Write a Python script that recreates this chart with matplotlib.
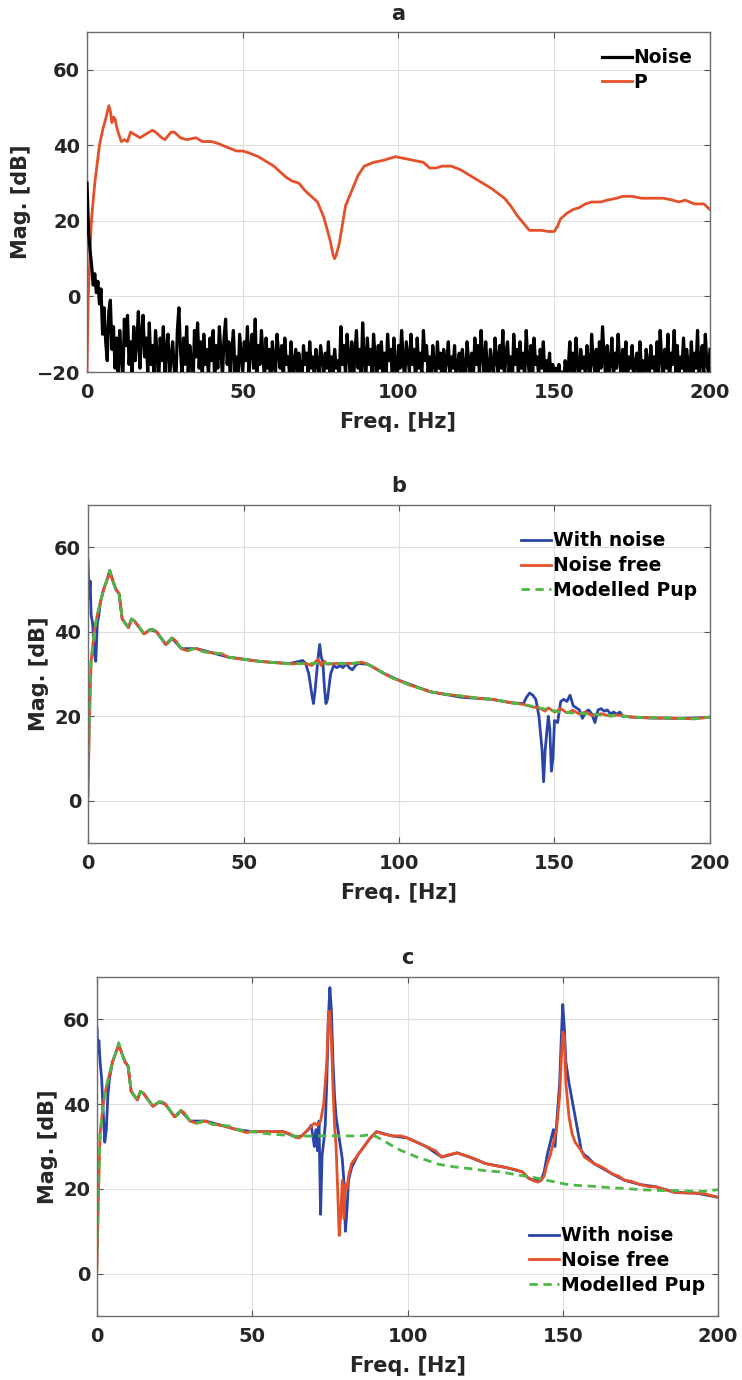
import numpy as np
import matplotlib
matplotlib.use("Agg")
import matplotlib.pyplot as plt

# ---------------- data ----------------
# Panel a: noise spectrum sampled every 0.5 Hz from 0 to 200 Hz
noise_step = 0.5
noise_mag = [
    30, 17, 12, 8, 3, 6, 1, 4, -2, 2, -10, -3, -12, -17, -4, -1, -14, -8, -19, -11,
    -20, -9, -16, -22, -6, -13, -5, -18, -12, -21, -8, -17, -12, -4, -19, -10, -5, -16, -11, -20,
    -7, -18, -13, -21, -9, -15, -23, -11, -17, -8, -20, -14, -10, -22, -16, -12, -19, -24, -9, -3,
    -14, -21, -11, -18, -8, -20, -13, -17, -25, -9, -16, -7, -19, -12, -22, -10, -18, -14, -21, -11,
    -17, -9, -23, -13, -19, -8, -15, -21, -11, -6, -18, -12, -22, -14, -9, -20, -16, -24, -10, -15,
    -20, -12, -17, -8, -21, -14, -10, -19, -6, -23, -13, -18, -9, -16, -22, -11, -19, -14, -25, -12,
    -17, -21, -10, -15, -19, -13, -23, -11, -18, -16, -20, -12, -24, -17, -14, -21, -15, -19, -22, -13,
    -18, -15, -21, -12, -19, -16, -23, -14, -18, -20, -13, -17, -21, -15, -19, -12, -22, -16, -20, -14,
    -19, -17, -22, -8, -18, -13, -21, -10, -16, -20, -12, -24, -15, -9, -19, -14, -21, -7, -17, -22,
    -11, -18, -14, -21, -10, -16, -23, -13, -19, -12, -20, -15, -22, -10, -17, -14, -21, -11, -18, -24,
    -13, -19, -9, -17, -22, -12, -16, -20, -10, -18, -14, -23, -11, -19, -15, -21, -9, -17, -13, -20,
    -16, -22, -13, -18, -21, -12, -19, -15, -24, -14, -20, -17, -12, -21, -16, -19, -13, -22, -18, -15,
    -21, -14, -19, -23, -12, -17, -20, -15, -22, -11, -18, -13, -21, -9, -16, -20, -12, -19, -23, -14,
    -18, -21, -11, -17, -20, -13, -19, -9, -22, -15, -12, -20, -16, -24, -10, -18, -14, -21, -12, -19,
    -15, -22, -9, -17, -20, -13, -23, -11, -18, -16, -21, -14, -19, -12, -22, -17, -20, -15, -24, -18,
    -21, -19, -23, -18, -22, -20, -24, -17, -21, -19, -12, -22, -15, -20, -11, -18, -23, -14, -19, -16,
    -21, -13, -18, -22, -10, -17, -20, -14, -23, -12, -19, -8, -16, -21, -13, -20, -18, -11, -22, -15,
    -19, -10, -17, -21, -14, -20, -12, -23, -16, -19, -13, -22, -18, -15, -21, -12, -20, -17, -24, -14,
    -18, -21, -13, -19, -16, -22, -12, -20, -9, -17, -21, -14, -19, -10, -23, -15, -18, -9, -20, -13,
    -22, -16, -19, -11, -21, -14, -18, -23, -12, -20, -15, -19, -9, -22, -17, -13, -21, -10, -18, -20,
    -14,
]

# Panel a: P (freq Hz, dB)
p_pts = [
    (0, -20), (0.4, 0), (1.4, 20), (2.5, 30), (4, 40), (5, 44), (6, 47), (7, 50.5),
    (7.5, 49), (8, 46), (8.5, 47.5), (9, 47), (9.5, 45), (10, 43.5), (11, 41), (12, 41.5),
    (13, 41), (14, 43.5), (15, 43), (16, 42.5), (17, 42), (18, 42.5), (20, 43.5), (21, 44),
    (22, 43.5), (24, 42), (25, 41.5), (26, 42.5), (27, 43.5), (28, 43.5), (30, 42), (32, 41.5),
    (35, 42), (37, 41), (40, 41), (42, 40.5), (45, 39.5), (48, 38.5), (50, 38.5), (52, 38),
    (55, 37), (58, 35.5), (60, 34.5), (62, 33), (64, 31.5), (66, 30.5), (68, 30), (70, 28),
    (72, 26.5), (74, 25), (76, 21), (78, 15), (79, 11), (79.5, 10), (80, 11), (81, 14),
    (82, 19), (83, 24), (85, 28), (87, 32), (89, 34.5), (92, 35.5), (95, 36), (97, 36.5),
    (99, 37), (102, 36.5), (105, 36), (108, 35.5), (110, 34), (112, 34), (114, 34.5),
    (117, 34.5), (120, 33.5), (123, 32), (126, 30.5), (130, 28.5), (134, 26), (136, 24),
    (138, 21.5), (140, 19.5), (142, 17.5), (144, 17.5), (146, 17.5), (148, 17.2), (150, 17.2),
    (151, 18.5), (152, 20.5), (154, 22), (156, 23), (158, 23.5), (160, 24.5), (162, 25),
    (165, 25), (167, 25.5), (170, 26), (172, 26.5), (175, 26.5), (178, 26), (180, 26),
    (183, 26), (185, 26), (188, 25.5), (190, 25), (192, 25.5), (195, 24.5), (198, 24.5), (200, 23),
]

# Modelled Pup (panels b and c)
pup_pts = [
    (0, 5), (0.5, 20), (1, 33), (2, 40), (3, 44), (4, 47), (5, 50), (6, 52), (7, 54.5),
    (8, 52), (9, 50), (10, 49), (11, 43), (12, 42), (13, 41), (14, 43), (15, 42.5), (17, 40.5),
    (18, 39.5), (20, 40.5), (21, 40.5), (22, 40), (24, 38), (25, 37), (26, 37.5), (27, 38.5),
    (28, 38), (30, 36), (32, 35.5), (34, 36), (35, 36), (37, 35.3), (40, 35), (43, 34.8),
    (45, 34), (50, 33.5), (55, 33), (60, 32.7), (65, 32.4), (70, 32.5), (75, 32.5), (80, 32.5),
    (85, 32.5), (88, 32.8), (90, 32.3), (92, 31.5), (95, 30.2), (98, 29), (100, 28.5),
    (103, 27.5), (106, 26.8), (110, 25.8), (115, 25.2), (121, 24.7), (125, 24.3), (130, 24),
    (136, 23.2), (140, 22.8), (145, 22), (151, 21.1), (155, 20.8), (160, 20.6), (165, 20.3),
    (170, 20.1), (175, 19.8), (182, 19.6), (185, 19.6), (190, 19.5), (195, 19.4), (200, 19.8),
]

# Panel b: with noise
wn_b_pts = [
    (0, 57), (0.3, 48), (0.7, 52), (1, 44), (1.5, 42), (2, 35), (2.5, 33), (3, 42), (3.5, 44),
    (4, 47), (5, 50), (6, 52), (7, 54.5), (8, 52), (9, 50), (10, 49), (11, 43), (12, 42),
    (13, 41), (14, 43), (15, 42.5), (17, 40.5), (18, 39.5), (20, 40.5), (22, 40), (24, 38),
    (25, 37), (27, 38.5), (30, 36), (35, 36), (40, 35), (45, 34), (50, 33.5), (55, 33),
    (60, 32.7), (65, 32.5), (68, 33), (69, 33.2), (70, 32.5), (71, 30), (72, 25), (72.5, 23),
    (73, 26), (74, 34), (74.5, 37), (75, 34), (75.5, 33), (76, 27), (76.5, 23), (77, 24),
    (78, 30), (79, 32), (80, 31.5), (81, 32), (82, 31.5), (83, 32.5), (84, 31.5), (85, 31),
    (86, 32), (87, 32.5), (90, 32.3), (95, 30.2), (100, 28.5), (110, 25.8), (120, 24.5),
    (130, 24), (136, 23.2), (140, 23), (141, 24.5), (142, 25.5), (143, 25), (144, 24),
    (145, 20), (146, 12), (146.5, 4.5), (147, 12), (148, 20), (148.5, 17), (149, 7),
    (149.5, 10), (150, 19), (151, 18.5), (152, 23.5), (153, 24), (154, 23.5), (155, 25),
    (156, 22.5), (157, 22), (158, 21.5), (159, 19.5), (160, 21), (161, 21.5), (162, 20.5),
    (163, 18.5), (164, 21.5), (165, 21.8), (166, 21.2), (167, 21.5), (168, 20.5), (169, 21),
    (170, 20.5), (171, 21), (172, 20), (175, 19.8), (180, 19.6), (190, 19.5), (200, 19.7),
]

# Panel b: noise free
nf_b_pts = [
    (0, 1), (0.5, 20), (1, 33), (2, 40), (3, 44), (4, 47), (5, 50), (6, 52), (7, 54),
    (8, 52), (9, 50), (10, 49), (11, 43), (12, 42), (13, 41), (14, 43), (15, 42.5), (17, 40.5),
    (18, 39.5), (20, 40.5), (21, 40.5), (22, 40), (24, 38), (25, 37), (26, 37.5), (27, 38.5),
    (28, 38), (30, 36), (32, 35.5), (34, 36), (35, 36), (37, 35.3), (40, 35), (43, 34.8),
    (45, 34), (50, 33.5), (55, 33), (60, 32.7), (65, 32.4), (70, 32.5), (72, 32), (73, 32.8),
    (74, 33.5), (75, 32), (76, 33), (77, 32.3), (80, 32.5), (85, 32.5), (88, 32.8), (90, 32.3),
    (92, 31.5), (95, 30.2), (98, 29), (100, 28.5), (103, 27.5), (106, 26.8), (110, 25.8),
    (115, 25.2), (121, 24.7), (125, 24.3), (130, 24), (136, 23.2), (140, 22.8), (143, 22.2),
    (145, 22), (147, 21.2), (148, 22), (150, 21), (152, 21.8), (154, 20.8), (156, 21.4),
    (158, 20.5), (160, 21), (162, 20.2), (165, 20.6), (168, 20), (170, 20.3), (175, 19.8),
    (182, 19.6), (185, 19.6), (190, 19.5), (195, 19.4), (200, 19.8),
]

# Panel c: with noise
wn_c_pts = [
    (0, 58), (0.3, 52), (0.6, 55), (1, 50), (1.5, 46), (2, 38), (2.5, 31), (3, 34), (3.5, 42),
    (4, 46), (5, 50), (6, 52), (7, 54), (8, 52), (9, 50), (10, 49), (11, 43), (12, 42),
    (13, 41), (14, 43), (15, 42.5), (17, 40.5), (18, 39.5), (20, 40.5), (22, 40), (24, 38),
    (25, 37), (27, 38.5), (30, 36), (35, 36), (40, 35), (45, 34), (50, 33.5), (60, 33.5),
    (64, 32.2), (66, 32.5), (68, 34), (69, 35), (70, 30), (70.5, 34), (71, 29), (71.5, 36),
    (72, 14), (72.5, 28), (73, 31), (73.5, 35), (74, 45), (74.5, 60), (75, 67.5), (75.5, 62),
    (76, 50), (76.5, 42), (77, 37), (78, 32), (79, 27), (79.5, 22), (80, 10), (80.5, 15),
    (81, 22), (82, 25), (84, 28), (86, 30), (88, 32), (90, 33.5), (95, 32.5), (100, 32),
    (106, 30), (111, 27.5), (116, 28.5), (120, 27.5), (125, 26), (132, 25), (137, 24),
    (139, 22.5), (141, 22), (143, 22), (144, 24), (145, 28), (146, 31), (147, 34), (147.5, 30),
    (148, 35), (149, 45), (149.5, 55), (150, 63.5), (150.5, 58), (151, 50), (152, 45),
    (153, 41), (154, 37), (155, 33), (156, 29), (157, 28), (158, 27.5), (160, 26),
    (166, 23.5), (170, 22), (175, 21), (180, 20.5), (186, 19.2), (193, 19), (200, 18),
]

# Panel c: noise free
nf_c_pts = [
    (0, 1), (0.5, 20), (1, 33), (2, 40), (3, 44), (4, 47), (5, 50), (6, 52), (7, 54),
    (8, 52), (9, 50), (10, 49), (11, 43), (12, 42), (13, 41), (14, 43), (15, 42.5), (17, 40.5),
    (18, 39.5), (20, 40.5), (21, 40.5), (22, 40), (24, 38), (25, 37), (26, 37.5), (27, 38.5),
    (28, 38), (30, 36), (32, 35.5), (35, 36), (37, 35.3), (40, 35), (45, 34), (48, 33.3),
    (50, 33.5), (55, 33.5), (60, 33.5), (62, 33), (64, 32.2), (65, 32), (66, 32.5), (68, 34),
    (70, 35.5), (71, 35), (72, 36), (73, 40), (74, 50), (74.5, 60), (75, 62), (75.5, 55),
    (76, 44), (76.5, 35), (77, 30), (77.5, 20), (78, 9), (78.5, 14), (79, 22), (79.5, 13),
    (80, 21), (80.5, 20), (81, 23), (82, 26), (84, 28), (86, 30), (88, 32), (90, 33.5),
    (92, 33), (95, 32.5), (98, 32.5), (100, 32), (103, 31), (106, 30), (109, 29), (111, 27.5),
    (113, 28), (116, 28.5), (118, 28), (120, 27.5), (122, 27), (125, 26), (128, 25.5),
    (132, 25), (135, 24.5), (137, 24), (139, 22.5), (141, 21.8), (142, 21.6), (143, 22),
    (144, 23), (145, 26), (146, 28), (147, 31), (148, 34), (149, 42), (149.5, 50), (150, 57),
    (150.5, 56), (151, 45), (152, 37), (153, 33), (154, 31), (155, 30), (156, 29), (157, 27.5),
    (160, 26), (163, 25), (166, 23.5), (168, 23), (170, 22), (172, 21.8), (175, 21),
    (178, 20.5), (180, 20.5), (183, 19.8), (186, 19.2), (190, 19), (193, 19), (196, 18.8),
    (200, 18),
]

panel_titles = ["a", "b", "c"]
x_ticks = [0, 50, 100, 150, 200]
y_ticks_a = [-20, 0, 20, 40, 60]
y_ticks_bc = [0, 20, 40, 60]
x_label = "Freq. [Hz]"
y_label = "Mag. [dB]"

# ---------------- style ----------------
FONT = ["DejaVu Sans"]
plt.rcParams["font.family"] = FONT
plt.rcParams["font.weight"] = "bold"
TXT = "#262626"
C_NOISE = "#000000"
C_ORANGE = "#E4502A"
C_BLUE = "#2A44A8"
C_GREEN = "#4CB848"
TICK_FS = 14
LABEL_FS = 15
TITLE_FS = 15
LEG_FS = 13.5


def xy(pts):
    a = np.array(pts, dtype=float)
    return a[:, 0], a[:, 1]


def style_axes(ax, ylim, yticks, title):
    ax.set_xlim(0, 200)
    ax.set_ylim(*ylim)
    ax.set_xticks(x_ticks)
    ax.set_yticks(yticks)
    ax.grid(True, color="#dedede", linewidth=0.8)
    ax.set_axisbelow(True)
    ax.tick_params(axis="x", pad=8)
    ax.tick_params(axis="y", pad=5)
    ax.tick_params(direction="in", length=4, width=0.8, top=True, right=True,
                   labelsize=TICK_FS, colors="#555555", labelcolor=TXT)
    for s in ax.spines.values():
        s.set_color("#6e6e6e")
        s.set_linewidth(1.0)
    for lab in ax.get_xticklabels() + ax.get_yticklabels():
        lab.set_fontweight("bold")
    ax.set_xlabel(x_label, fontsize=LABEL_FS, fontweight="bold", color=TXT, labelpad=7)
    ax.set_ylabel(y_label, fontsize=LABEL_FS, fontweight="bold", color=TXT, labelpad=4)
    ax.set_title(title, fontsize=TITLE_FS, fontweight="bold", color=TXT, pad=9)


def add_legend(ax, handles, labels, loc, anchor):
    ax.legend(handles, labels, loc=loc, bbox_to_anchor=anchor, frameon=False,
              handlelength=1.6, handletextpad=0.1, borderaxespad=0.2, labelspacing=0.3,
              prop={"family": FONT, "weight": "bold", "size": LEG_FS})


fig = plt.figure(figsize=(7.42, 13.8), dpi=100)

# ---- panel a ----
ax_a = fig.add_axes([0.11725, 0.73043, 0.83962, 0.24638])
px, py = xy(p_pts)
hp, = ax_a.plot(px, py, color=C_ORANGE, linewidth=2.0, label="P", zorder=2)
nf = np.arange(len(noise_mag)) * noise_step
hn, = ax_a.plot(nf, noise_mag, color=C_NOISE, linewidth=2.3, label="Noise", zorder=3)
style_axes(ax_a, (-20, 70), y_ticks_a, panel_titles[0])
add_legend(ax_a, [hn, hp], ["Noise", "P"], "upper right", (0.99, 0.985))

# ---- panel b ----
ax_b = fig.add_axes([0.11860, 0.38913, 0.83827, 0.24493])
bx, by = xy(wn_b_pts)
ax_b.plot(bx, by, color=C_BLUE, linewidth=2.0, label="With noise")
ox, oy = xy(nf_b_pts)
ax_b.plot(ox, oy, color=C_ORANGE, linewidth=2.0, label="Noise free")
gx, gy = xy(pup_pts)
ax_b.plot(gx, gy, color=C_GREEN, linewidth=2.0, linestyle=(0, (3, 2)), label="Modelled Pup")
style_axes(ax_b, (-10, 70), y_ticks_bc, panel_titles[1])
h, l = ax_b.get_legend_handles_labels()
add_legend(ax_b, h, l, "upper right", (0.997, 0.955))

# ---- panel c ----
ax_c = fig.add_axes([0.13073, 0.04638, 0.83693, 0.24565])
cx, cy = xy(wn_c_pts)
ax_c.plot(cx, cy, color=C_BLUE, linewidth=2.0, label="With noise")
ox, oy = xy(nf_c_pts)
ax_c.plot(ox, oy, color=C_ORANGE, linewidth=2.0, label="Noise free")
ax_c.plot(gx, gy, color=C_GREEN, linewidth=2.0, linestyle=(0, (3, 2)), label="Modelled Pup")
style_axes(ax_c, (-10, 70), y_ticks_bc, panel_titles[2])
h, l = ax_c.get_legend_handles_labels()
add_legend(ax_c, h, l, "lower right", (0.997, 0.03))

fig.savefig("out.png", dpi=100)
